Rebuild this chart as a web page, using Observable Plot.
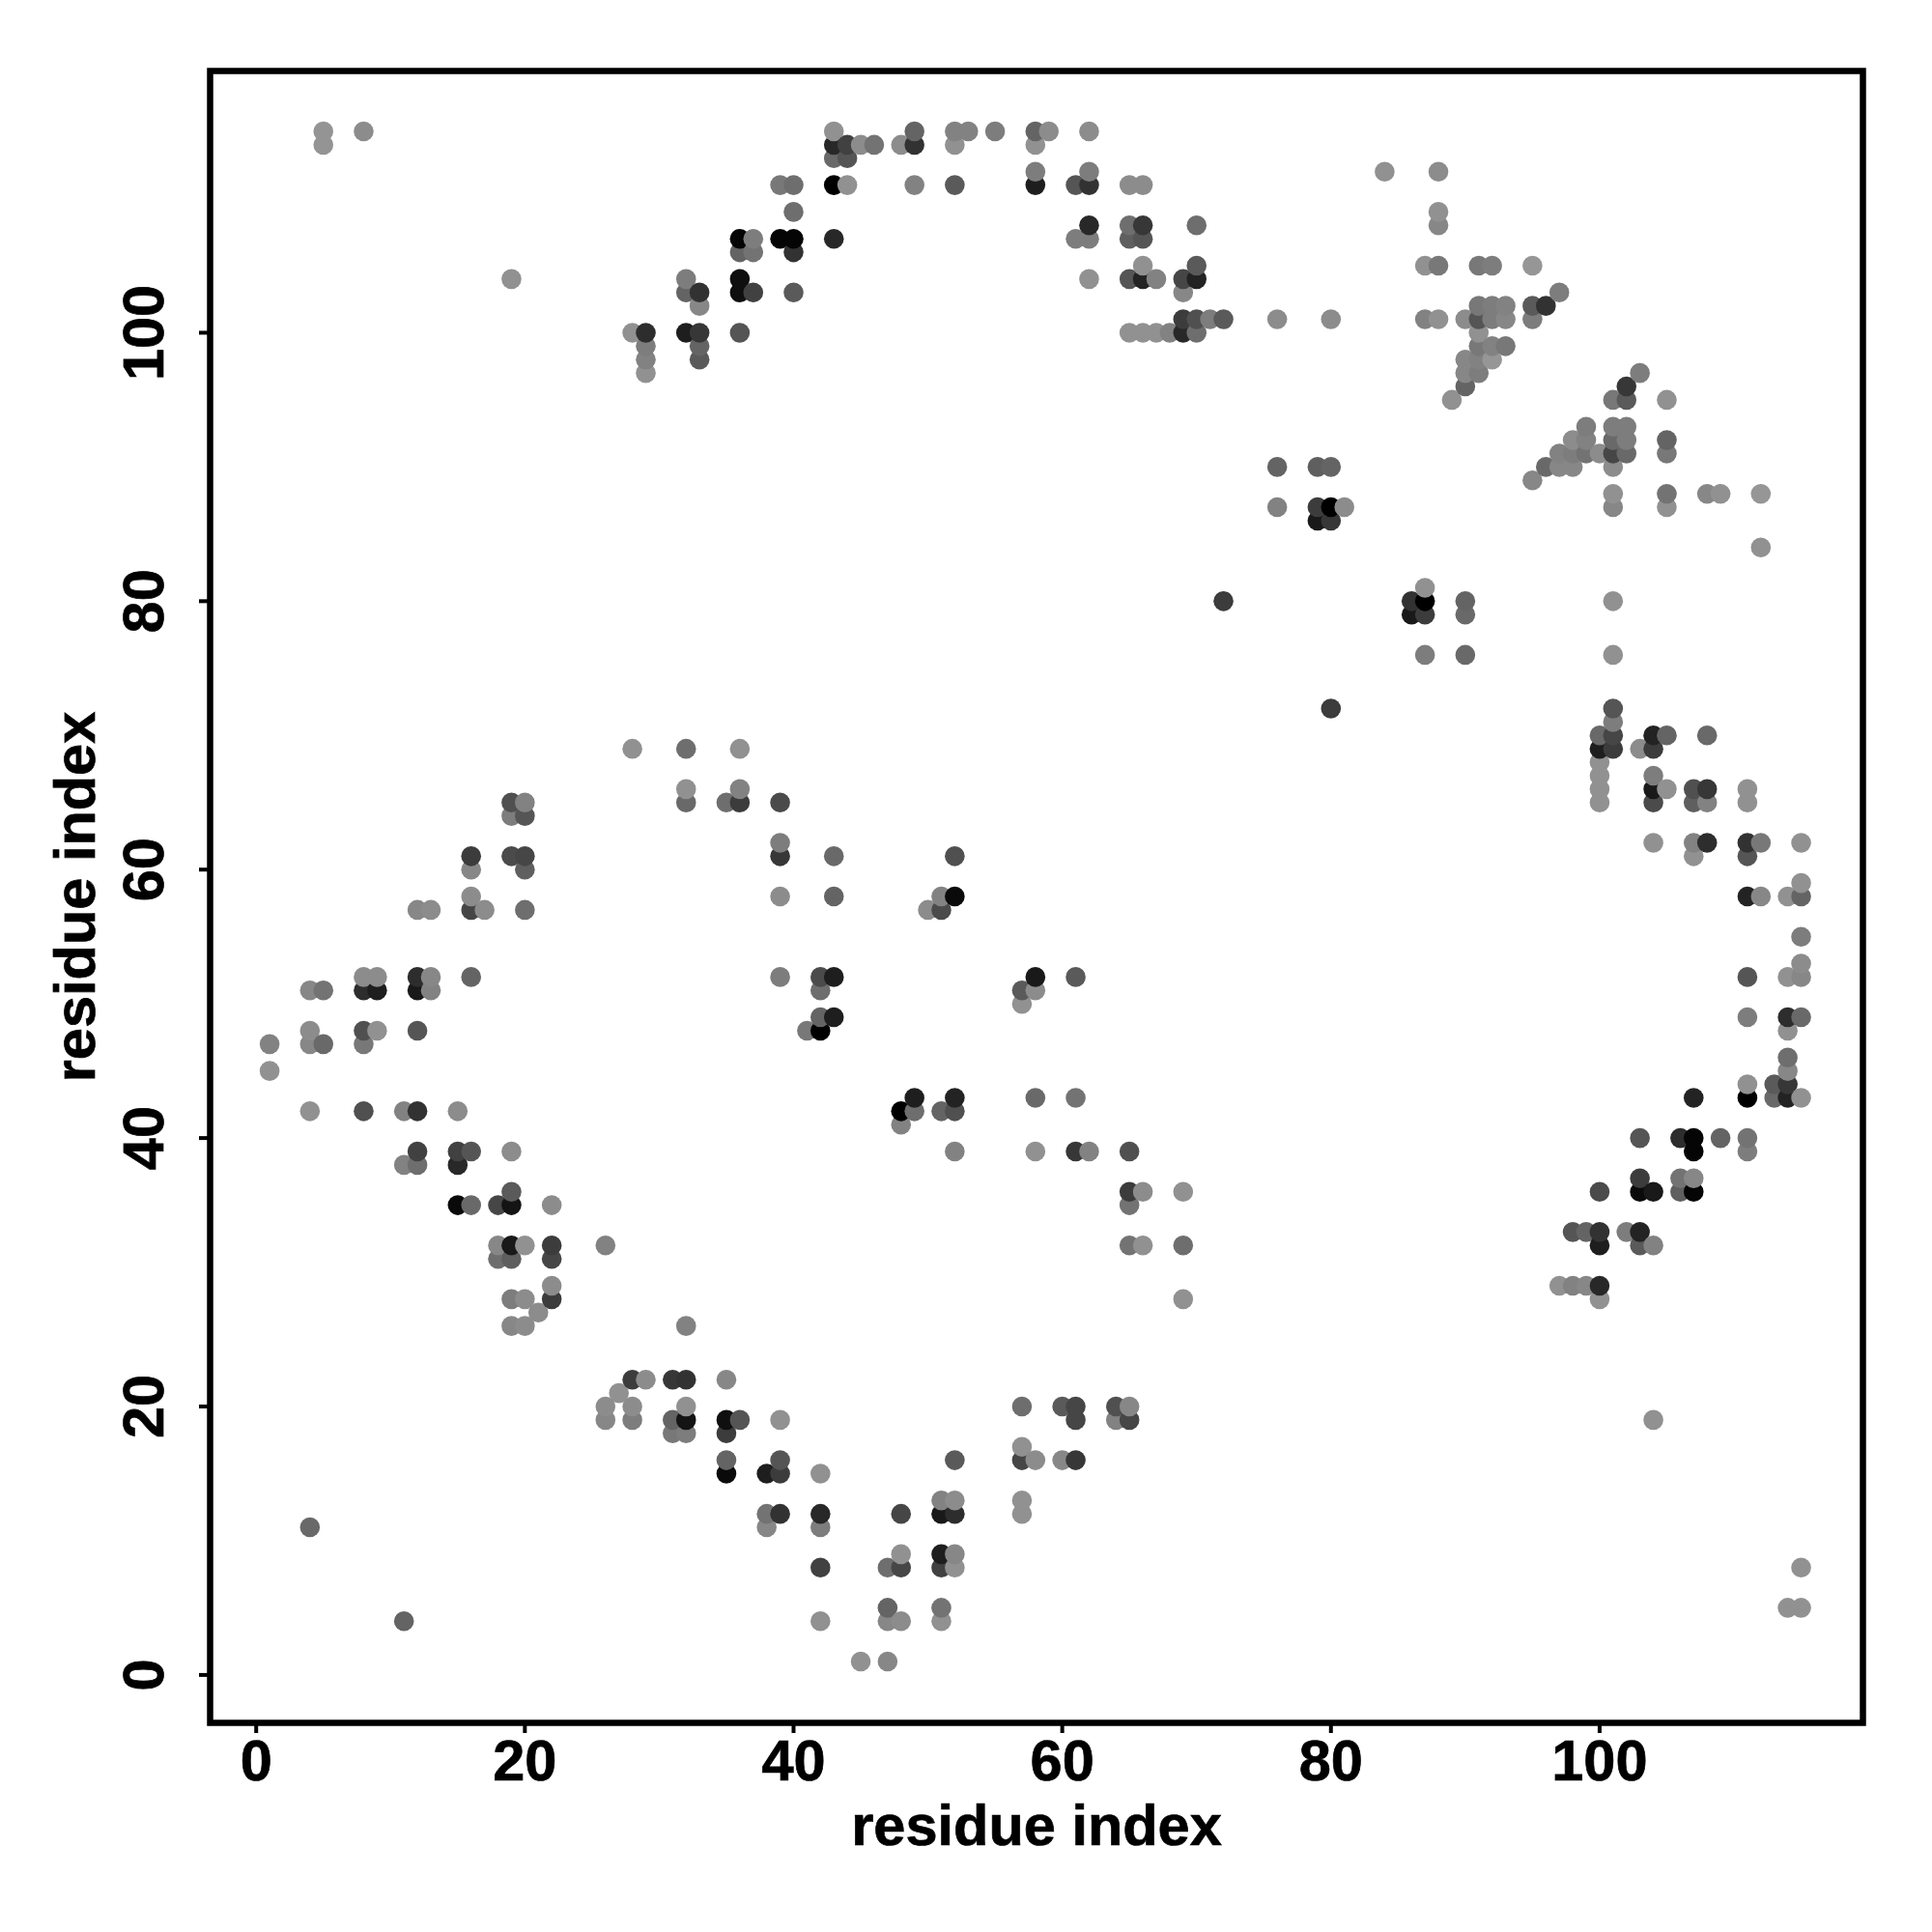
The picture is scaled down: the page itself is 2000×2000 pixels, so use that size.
<!DOCTYPE html>
<html>
<head>
<meta charset="utf-8">
<style>html,body{margin:0;padding:0;background:#fff}svg{display:block}svg text{stroke:#000;stroke-width:.7px}</style>
<script src="https://cdn.jsdelivr.net/npm/d3@7"></script>
<script src="https://cdn.jsdelivr.net/npm/@observablehq/plot@0.6"></script>
</head>
<body>
<div id="chart"></div>
<script>
// Each contact: [residue x, residue y, grey level 0-255]
const topArc = [
[5,115,148],[5,114,148],[8,115,140],[19,104,145],
[28,100,145],[29,100,45],[29,99,125],[29,98,130],[29,97,145],
[32,104,125],[32,103,100],[33,103,50],[33,102,135],[32,100,30],[33,100,55],[33,99,100],[33,98,90],
[36,100,85],[36,104,15],[36,103,15],[37,103,65],[36,107,5],[37,107,125],[36,106,100],[37,106,115],
[39,107,5],[40,107,5],[40,106,50],[40,103,90],[39,111,120],[40,111,110],[40,109,110],
[43,107,40],[43,111,0],[44,111,145],[43,115,145],[43,114,40],[44,114,65],[43,113,105],[44,113,85],[45,114,140],[46,114,115],
[48,114,140],[49,114,50],[49,115,100],[49,111,130],[52,115,130],[52,114,145],[52,111,90],
[53,115,130],[55,115,125],[58,115,100],[59,115,140],[62,115,140],[58,114,145],[58,112,125],[62,112,125],[58,111,30],[61,111,85],[62,111,50],
[65,111,140],[66,111,140],[62,108,40],[61,107,125],[62,107,125],[65,108,110],[66,108,55],[65,107,95],[66,107,85],[70,108,110],
[66,105,145],[62,104,145],[65,104,85],[66,104,35],[67,104,130],[69,103,135],[69,104,70],[70,105,90],[70,104,35],
[69,101,60],[70,101,80],[71,101,125],[72,101,90],[76,101,140],[80,101,140],
[65,100,145],[66,100,145],[67,100,145],[68,100,130],[69,100,40],[70,100,110]
];
const upperRight = [
[84,112,145],[88,112,140],[88,109,145],[88,108,135],
[87,105,145],[88,105,120],[91,105,120],[92,105,125],[95,105,150],
[91,102,120],[92,102,125],[93,102,130],[95,102,90],[96,102,50],[97,103,125],
[87,101,130],[88,101,145],[90,101,140],[91,101,85],[92,101,125],[93,101,135],[95,101,125],
[91,100,145],[91,99,120],[92,99,130],[93,99,120],[90,98,135],[91,98,130],[92,98,150],[90,97,135],[91,97,125],[90,96,100],[89,95,145],
[103,97,125],[102,96,55],[101,95,120],[102,95,90],[105,95,145],
[99,93,125],[101,93,125],[102,93,125],[98,92,140],[99,92,130],[101,92,105],[102,92,125],[105,92,100],
[97,91,130],[98,91,125],[99,91,115],[100,91,140],[101,91,70],[102,91,105],[105,91,120],
[96,90,105],[97,90,135],[98,90,135],[101,90,140],[95,89,135],
[101,88,145],[105,88,115],[108,88,135],[109,88,145],[112,88,150],[101,87,135],[105,87,145],[112,84,145]
];
const midRight = [
[76,90,100],[79,90,95],[80,90,100],[76,87,130],[79,87,60],[80,87,0],[81,87,140],[79,86,25],[80,86,55],
[72,80,60],[86,80,50],[87,80,0],[87,81,145],[86,79,25],[87,79,60],[90,80,100],[90,79,105],
[87,76,125],[90,76,105],[101,80,145],[101,76,145],[80,72,60],[101,72,85],[101,71,125]
];
const rightArc = [
[100,70,105],[101,70,70],[104,70,35],[105,70,100],[108,70,105],[100,69,30],[101,69,60],[103,69,140],[104,69,60],
[100,68,145],[100,67,145],[104,67,125],[100,66,145],[104,66,25],[105,66,145],[107,66,80],[108,66,55],[111,66,145],
[100,65,145],[104,65,75],[107,65,95],[108,65,130],[111,65,145],
[104,62,145],[107,62,130],[108,62,45],[111,62,50],[112,62,120],[115,62,145],[107,61,145],[111,61,85],
[115,59,145],[111,58,35],[112,58,135],[114,58,145],[115,58,100],[115,55,125],[115,53,140],
[111,52,85],[114,52,145],[115,52,135],[111,49,125],[114,49,45],[115,49,105],[114,48,145],[114,46,110],[114,45,135],
[111,44,145],[113,44,90],[114,44,55],[107,43,35],[111,43,0],[113,43,105],[114,43,35],[115,43,145]
];
const lowerRight = [
[103,40,85],[106,40,45],[107,40,5],[109,40,100],[111,40,115],[107,39,5],[111,39,125],
[103,37,60],[106,37,115],[107,37,135],[100,36,75],[103,36,10],[104,36,25],[106,36,95],[107,36,5],
[98,33,85],[99,33,100],[100,33,50],[102,33,125],[103,33,35],[100,32,30],[103,32,90],[104,32,130],
[97,29,145],[98,29,130],[99,29,135],[100,29,40],[100,28,145],[104,19,145],[115,8,145],[114,5,145],[115,5,145]
];
const centerBand = [
[58,52,25],[61,52,90],[57,51,90],[58,51,140],[57,50,145],[58,43,105],[61,43,115],[58,39,145],[61,39,55],[62,39,130],[65,39,80],
[65,36,60],[66,36,140],[69,36,145],[65,35,115],[65,32,115],[66,32,145],[69,32,110],[69,28,145],
[57,20,110],[60,20,90],[61,20,70],[64,20,80],[65,20,135],[61,19,70],[64,19,130],[65,19,70],
[57,17,145],[57,16,70],[58,16,140],[60,16,135],[61,16,55],[57,13,145],[57,12,145]
];
const upperLeft = [
[28,69,145],[32,69,110],[36,69,145],[32,66,145],[36,66,130],[19,65,80],[20,65,130],[32,65,105],[35,65,110],[36,65,60],[39,65,75],
[19,64,125],[20,64,85],[39,62,125],[16,61,60],[19,61,75],[20,61,70],[39,61,55],[43,61,105],[52,61,80],
[16,60,135],[20,60,95],[16,58,140],[39,58,140],[43,58,100],[51,58,130],[52,58,10],
[12,57,135],[13,57,140],[16,57,70],[17,57,140],[20,57,110],[50,57,140],[51,57,75]
];
const midLeft = [
[8,52,140],[9,52,140],[12,52,45],[13,52,135],[16,52,100],[39,52,125],[42,52,75],[43,52,30],
[4,51,135],[5,51,115],[8,51,45],[9,51,30],[12,51,25],[13,51,130],[42,51,110],[42,49,100],[43,49,30],
[4,48,140],[8,48,80],[9,48,145],[12,48,85],[41,48,120],[42,48,0],[1,47,130],[4,47,135],[5,47,105],[8,47,120],[1,45,145],
[4,42,145],[8,42,80],[11,42,130],[12,42,50],[15,42,140],[48,42,0],[49,42,110],[51,42,100],[52,42,80],[49,43,30],[52,43,35],[48,41,130],
[12,39,65],[15,39,65],[16,39,85],[19,39,140],[52,39,130],[11,38,130],[12,38,110],[15,38,40]
];
const lowerLeft = [
[19,36,90],[15,35,10],[16,35,105],[18,35,70],[19,35,20],[22,35,140],[18,32,135],[19,32,25],[20,32,145],[22,32,60],[26,32,130],
[18,31,110],[19,31,95],[22,31,70],[22,29,140],[19,28,125],[20,28,140],[22,28,60],[21,27,140],[19,26,135],[20,26,140],[32,26,130],
[28,22,60],[29,22,140],[31,22,55],[32,22,50],[35,22,135],[27,21,145],[26,20,140],[28,20,140],[32,20,145],
[26,19,135],[28,19,125],[31,19,100],[32,19,20],[35,19,15],[36,19,85],[39,19,145],[31,18,120],[32,18,125],[35,18,60],
[35,16,100],[39,16,85],[52,16,90],[35,15,10],[38,15,30],[39,15,60],[42,15,145],[51,13,130],[52,13,140],
[38,12,115],[39,12,50],[42,12,40],[48,12,70],[51,12,25],[52,12,45],[4,11,105],[38,11,135],[42,11,125],
[48,9,145],[51,9,30],[52,9,135],[42,8,65],[47,8,110],[48,8,70],[51,8,65],[52,8,145],
[47,5,100],[51,5,115],[11,4,100],[42,4,145],[47,4,135],[48,4,140],[51,4,145],[45,1,145],[47,1,135]
];
const tickValues = [0, 20, 40, 60, 80, 100];
const axisTitle = "residue index";

const contacts = d3.sort(
  [...topArc, ...upperRight, ...midRight, ...rightArc, ...lowerRight, ...centerBand, ...upperLeft, ...midLeft, ...lowerLeft]
    .map(([x, y, g]) => ({x, y, g})),
  d => d.x, d => d.y
);

const fontFamily = "'Liberation Sans', Arial, sans-serif";

const chart = Plot.plot({
  width: 2000,
  height: 2000,
  marginLeft: 217,
  marginRight: 72,
  marginTop: 73,
  marginBottom: 217,
  style: {fontFamily, fontWeight: 700, fontSize: "59.5px", color: "#000", background: "#fff"},
  x: {domain: [-3.43, 119.6]},
  y: {domain: [-3.57, 119.5]},
  marks: [
    Plot.dot(contacts, {x: "x", y: "y", r: 10.3, fill: d => `rgb(${d.g},${d.g},${d.g})`, stroke: "none"}),
    Plot.frame({stroke: "#000", strokeWidth: 6.5}),
    Plot.axisX({ticks: tickValues, tickSize: 11, tickPadding: 6, strokeWidth: 4, tickFormat: d => String(d), label: axisTitle, labelAnchor: "center", labelOffset: 126, labelArrow: "none", fontSize: 59.5}),
    Plot.axisY({ticks: tickValues, tickSize: 11, tickPadding: 38, strokeWidth: 4, tickRotate: -90, tickFormat: d => String(d), label: axisTitle, labelAnchor: "center", labelOffset: 162, labelArrow: "none", fontSize: 59.5})
  ]
});
document.getElementById("chart").appendChild(chart);
</script>
</body>
</html>
